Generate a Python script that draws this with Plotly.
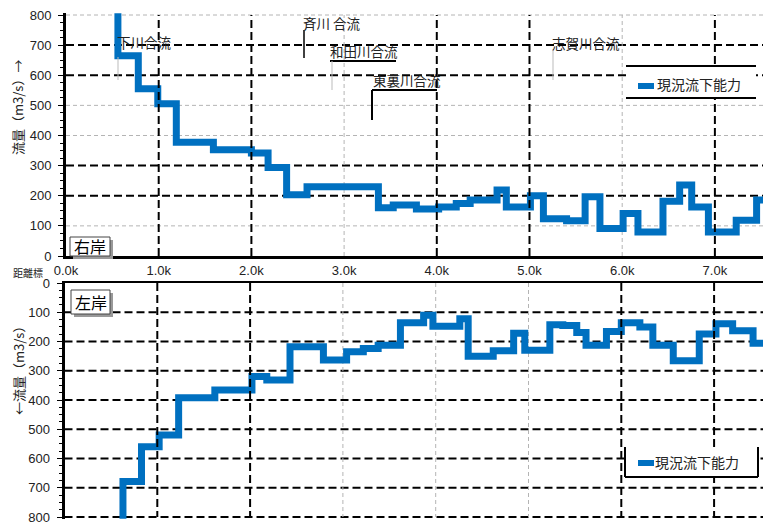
import plotly.graph_objects as go

# ---------------- data ----------------
series_name = "現況流下能力"

# right bank (右岸) : step start position (km) and flow capacity (m3/s)
right_km = [0.56, 0.56, 0.78, 0.99, 1.19, 1.59, 2.00, 2.18, 2.38, 2.60,
            3.37, 3.53, 3.78, 4.02, 4.21, 4.36, 4.65, 4.75, 5.01, 5.15,
            5.40, 5.60, 5.76, 6.01, 6.17, 6.44, 6.62, 6.75, 6.93, 7.23,
            7.45, 7.60]
right_q = [880, 665, 555, 505, 378, 353, 342, 294, 203, 230,
           160, 169, 156, 163, 174, 186, 219, 163, 200, 124,
           117, 197, 91, 141, 80, 182, 236, 163, 80, 119,
           186, 186]

# left bank (左岸)
left_km = [0.63, 0.63, 0.83, 1.02, 1.23, 1.62, 2.02, 2.18, 2.43, 2.79,
           3.04, 3.22, 3.38, 3.62, 3.87, 3.97, 4.26, 4.35, 4.62, 4.84,
           4.96, 5.23, 5.37, 5.52, 5.62, 5.84, 6.00, 6.20, 6.34, 6.56,
           6.84, 7.02, 7.20, 7.42, 7.60]
left_q = [880, 679, 560, 520, 392, 366, 320, 332, 218, 263,
          235, 224, 213, 136, 110, 148, 122, 250, 232, 172,
          230, 143, 145, 169, 213, 166, 136, 150, 213, 266,
          174, 139, 163, 206, 206]

x_tick_vals = [0, 1, 2, 3, 4, 5, 6, 7]
x_tick_text = ["0.0k", "1.0k", "2.0k", "3.0k", "4.0k", "5.0k", "6.0k", "7.0k"]
y_tick_vals = [0, 100, 200, 300, 400, 500, 600, 700, 800]

tributaries = ["下川合流", "斉川 合流", "和田川合流", "東裏川合流", "志賀川合流"]

# ---------------- layout helpers ----------------
W, H = 763, 522
def px(x):
    return x / W
def py(y):
    return 1 - y / H

FONT = "Liberation Sans, Arial, Noto Sans CJK JP"
JFONT = "Noto Sans CJK JP, Liberation Sans"
BLUE = "#0070C0"
TXT = "#222222"
BLK_DASH = dict(color="black", width=2, dash="8px,4px")
GRY_DASH = dict(color="#b4b4b4", width=1, dash="4px,3px")

fig = go.Figure()
fig.add_trace(go.Scatter(x=right_km, y=right_q, mode="lines", line_shape="hv",
                         line=dict(color=BLUE, width=7), name=series_name,
                         xaxis="x", yaxis="y", showlegend=False))
fig.add_trace(go.Scatter(x=left_km, y=left_q, mode="lines", line_shape="hv",
                         line=dict(color=BLUE, width=7), name=series_name,
                         xaxis="x2", yaxis="y2", showlegend=False))

yax_common = dict(tickvals=y_tick_vals, ticks="outside", ticklen=5, tickcolor="black",
                  showline=True, linewidth=3, linecolor="black", showgrid=False,
                  zeroline=False, tickfont=dict(family=FONT, size=13, color=TXT),
                  ticklabelstandoff=4, automargin=False, ticklabeloverflow="allow",
                  minor=dict(ticks="outside", ticklen=3, tickcolor="black", dtick=25, showgrid=False))

# top panel: 0 at y=256px, 800 at y=15px  (0.30125 px per unit); range padded by 6 units
# bottom panel: 0 at y=283px, 800 at y=517px (0.2925 px per unit); range padded by 6 units
fig.update_layout(
    width=W, height=H, paper_bgcolor="white", plot_bgcolor="white",
    margin=dict(l=0, r=0, t=0, b=0, autoexpand=False), showlegend=False,
    xaxis=dict(domain=[px(66), 1], range=[0, 7.519], tickvals=x_tick_vals, ticktext=x_tick_text,
               showline=True, linewidth=3, linecolor="black", showgrid=False, zeroline=False,
               ticks="", tickfont=dict(family=FONT, size=13, color=TXT), anchor="y", automargin=False),
    yaxis=dict(domain=[py(256), py(15 - 6 * 0.30125)], range=[0, 806], anchor="x", **yax_common),
    xaxis2=dict(domain=[px(64.5), 1], range=[0, 7.527], tickvals=x_tick_vals, showticklabels=False,
                showline=True, linewidth=1.5, linecolor="black", side="top", showgrid=False,
                zeroline=False, ticks="", anchor="y2", automargin=False),
    yaxis2=dict(domain=[py(517 + 6 * 0.2925), py(283)], range=[806, 0], anchor="x2", **yax_common),
)

shapes = []
# top panel gridlines
for v in [200, 300, 600, 700]:
    shapes.append(dict(type="line", xref="x domain", yref="y", x0=0, x1=1, y0=v, y1=v, line=BLK_DASH, layer="below"))
for v in [100, 400, 500, 800]:
    shapes.append(dict(type="line", xref="x domain", yref="y", x0=0, x1=1, y0=v, y1=v, line=GRY_DASH, layer="below"))
for v in [1, 2, 4, 5, 7]:
    shapes.append(dict(type="line", xref="x", yref="y", x0=v, x1=v, y0=0, y1=800, line=BLK_DASH, layer="above"))
for v in [3, 6]:
    shapes.append(dict(type="line", xref="x", yref="y", x0=v, x1=v, y0=0, y1=800, line=GRY_DASH, layer="below"))
# bottom panel gridlines
for v in [100, 200, 300, 400, 500, 600, 700, 800]:
    shapes.append(dict(type="line", xref="x2 domain", yref="y2", x0=0, x1=1, y0=v, y1=v, line=BLK_DASH, layer="below"))
for v in [1, 2, 6, 7]:
    shapes.append(dict(type="line", xref="x2", yref="y2", x0=v, x1=v, y0=0, y1=800, line=BLK_DASH, layer="above"))
for v in [3, 4, 5]:
    shapes.append(dict(type="line", xref="x2", yref="y2", x0=v, x1=v, y0=0, y1=800, line=GRY_DASH, layer="below"))

def pline(x0, y0, x1, y1, color="black", width=1.5):
    shapes.append(dict(type="line", xref="paper", yref="paper", x0=px(x0), y0=py(y0),
                       x1=px(x1), y1=py(y1), line=dict(color=color, width=width)))

# tributary leader lines
pline(118, 57, 118, 80, "#bbbbbb", 1)
pline(304, 30, 304, 58, "black", 1.5)
pline(330, 61, 396, 61, "black", 2)
pline(332, 61, 332, 90, "#bbbbbb", 1)
pline(372, 90, 437, 90, "black", 2)
pline(372, 90, 372, 120, "black", 2)
pline(553, 50, 553, 80, "#bbbbbb", 1)

# legend frames
shapes.append(dict(type="rect", xref="paper", yref="paper", x0=px(626), x1=px(756), y0=py(98), y1=py(66),
                   fillcolor="white", line=dict(width=0), layer="above"))
pline(626, 66, 756, 66, "black", 2)
pline(626, 98, 756, 98, "black", 2)
shapes.append(dict(type="rect", xref="paper", yref="paper", x0=px(625), x1=px(758), y0=py(477), y1=py(447),
                   fillcolor="white", line=dict(width=0), layer="above"))
pline(625, 447, 625, 477, "black", 2)
pline(758, 447, 758, 477, "black", 2)
pline(625, 477, 758, 477, "black", 2)
# legend symbols
pline(638, 86, 654, 86, BLUE, 6)
pline(638, 463, 654, 463, BLUE, 6)

# bank label boxes (shadow + box)
for (x0, y0, x1, y1) in [(70, 237, 110, 256), (71, 290, 110, 314)]:
    shapes.append(dict(type="rect", xref="paper", yref="paper", x0=px(x0 + 3), x1=px(x1 + 3),
                       y0=py(y1 + 3), y1=py(y0 + 3), fillcolor="#999999", line=dict(width=0), layer="above"))
    shapes.append(dict(type="rect", xref="paper", yref="paper", x0=px(x0), x1=px(x1),
                       y0=py(y1), y1=py(y0), fillcolor="white", line=dict(color="#444444", width=1), layer="above"))

fig.update_layout(shapes=shapes)

ann = []
def txt(x, y, s, size=13, xanchor="left", angle=0, color=TXT):
    ann.append(dict(x=px(x), y=py(y), xref="paper", yref="paper", text=s, showarrow=False,
                    xanchor=xanchor, yanchor="middle", textangle=angle,
                    font=dict(family=JFONT, size=size, color=color)))

txt(115, 42, tributaries[0], 13.5)
txt(301, 23, tributaries[1], 13.5)
txt(328, 51, tributaries[2], 13.5)
txt(371, 80, tributaries[3], 13.5)
txt(550, 43, tributaries[4], 13.5)

txt(655, 84, series_name, 14)
txt(653, 462, series_name, 14)

txt(90, 246, "右岸", 16, xanchor="center", color="black")
txt(90.5, 302, "左岸", 16, xanchor="center", color="black")

txt(28, 272, "距離標", 10, xanchor="center")
txt(18, 108, "流量（m3/s）→", 13, xanchor="center", angle=-90)
txt(18, 368, "←流量（m3/s）", 13, xanchor="center", angle=-90)

fig.update_layout(annotations=ann)

fig.write_html("out.html", config={"displayModeBar": False},
               post_script="document.body.style.margin='0';document.body.style.overflow='hidden';")
